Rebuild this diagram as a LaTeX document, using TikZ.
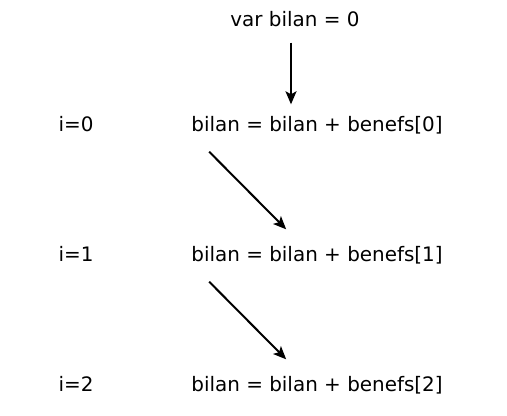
\documentclass[tikz,border=0pt]{standalone}
\usepackage{fontspec}
\setmainfont{DejaVu Sans}
\usetikzlibrary{arrows.meta, positioning, calc}

\begin{document}
\begin{tikzpicture}[
        x=1bp, y=-1bp,
        txt/.style={inner sep=0pt, font=\fontsize{20}{24}\selectfont,
                    text height=15bp, text depth=4bp},
        arrow/.style={-{Stealth[length=13bp, width=11bp, inset=3bp]}, line width=2bp},
    ]
        \useasboundingbox (0,0) rectangle (507,415);

        \node[txt] (init) at (295,21) {var bilan = 0};

        \node[txt] (i0) at (76,126) {i=0};
        \node[txt] (r0) at (317,126) {bilan = bilan + benefs[0]};
        \node[txt] (i1) at (76,256) {i=1};
        \node[txt] (r1) at (317,256) {bilan = bilan + benefs[1]};
        \node[txt] (i2) at (76,386) {i=2};
        \node[txt] (r2) at (317,386) {bilan = bilan + benefs[2]};

        \coordinate (start) at ([xshift=-4bp, yshift=-12bp]init.south);
        \draw[arrow] (start) -- ([yshift=12bp]start |- r0.north);
        \draw[arrow] ([xshift=18bp, yshift=-16bp]r0.south west) -- ([xshift=95bp, yshift=17bp]r1.north west);
        \draw[arrow] ([xshift=18bp, yshift=-16bp]r1.south west) -- ([xshift=95bp, yshift=17bp]r2.north west);
    \end{tikzpicture}
\end{document}
